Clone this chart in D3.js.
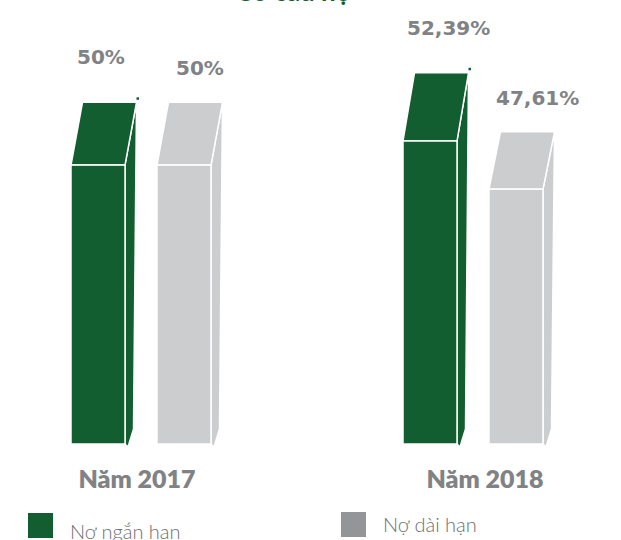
<!DOCTYPE html>
<html>
<head>
<meta charset="utf-8">
<script src="https://cdn.jsdelivr.net/npm/d3@7/dist/d3.min.js"></script>
<style>
  html, body { margin: 0; padding: 0; background: #fff; }
  svg { display: block; }
</style>
</head>
<body>
<svg id="chart" width="621" height="540"></svg>
<script>
// ---- data ----
const title = "Cơ cấu nợ";
const groups = ["Năm 2017", "Năm 2018"];
const series = ["Nợ ngắn hạn", "Nợ dài hạn"];
const shortTerm = [50, 52.39];
const longTerm = [50, 47.61];
const shortLabels = ["50%", "52,39%"];
const longLabels = ["50%", "47,61%"];

// ---- styles / layout ----
const colors = ["#125e30", "#cccdcf"];
const legendColors = ["#125e30", "#939598"];
const textGray = "#808285";
const W = 621, H = 540;
const depthRatio = 0.225, dx = 11.5;
const labelDx = [[6, 19], [4, 7]];
const labelDy = [38, 27];
const catDx = [66, 82];

const svg = d3.select("#chart");

const x0 = d3.scaleBand().domain(groups).range([71, 735]).paddingInner(0).paddingOuter(0);
const x1 = d3.scaleBand().domain(series).range([0, 140]).paddingInner(0.372).paddingOuter(0);
const y = d3.scaleLinear().domain([22.3, 52.39]).range([444, 141]);

// title (cut off at the top of the frame)
svg.append("text")
  .attr("x", 352).attr("y", 1)
  .attr("text-anchor", "end")
  .attr("font-family", "Lato, sans-serif")
  .attr("font-weight", 700)
  .attr("font-size", 26)
  .attr("fill", "#125e30")
  .text(title);

const rows = [];
groups.forEach((g, gi) => {
  [shortTerm, longTerm].forEach((arr, si) => {
    rows.push({ g, gi, s: series[si], si, v: arr[gi],
      label: (si === 0 ? shortLabels : longLabels)[gi] });
  });
});

const bw = x1.bandwidth();
const base = y.domain()[0];

rows.forEach(d => {
  const xl = x0(d.g) + x1(d.s);
  const xr = xl + bw;
  const top = y(d.v);
  const bottom = y(base);
  const depth = depthRatio * (bottom - top);
  const c = colors[d.si];
  const gEl = svg.append("g");

  // side face
  gEl.append("path")
    .attr("d", d3.line()([
      [xr, top], [xr + dx, top - depth], [xr + 8.5, bottom - 15], [xr + 3, bottom + 3], [xr, bottom]
    ]) + "Z")
    .attr("fill", c).attr("stroke", "#fff").attr("stroke-width", 1.5).attr("stroke-linejoin", "round");

  // top face
  gEl.append("path")
    .attr("d", d3.line()([
      [xl, top], [xr, top], [xr + dx, top - depth], [xl + dx, top - depth]
    ]) + "Z")
    .attr("fill", c).attr("stroke", "#fff").attr("stroke-width", 1.5);

  // front face
  gEl.append("rect")
    .attr("x", xl).attr("y", top)
    .attr("width", bw).attr("height", bottom - top)
    .attr("fill", c).attr("stroke", "#fff").attr("stroke-width", 1.5);

  if (d.si === 0) {
    gEl.append("rect")
      .attr("x", xr + dx).attr("y", top - depth - 5)
      .attr("width", 2.5).attr("height", 2.5)
      .attr("fill", c);
  }

  // value label
  svg.append("text")
    .attr("x", xl + labelDx[d.gi][d.si])
    .attr("y", top - depth - labelDy[d.si])
    .attr("font-family", "'DejaVu Sans', sans-serif")
    .attr("font-weight", 700)
    .attr("font-size", 20)
    .attr("fill", textGray)
    .text(d.label);
});

// category labels
groups.forEach((g, gi) => {
  svg.append("text")
    .attr("x", x0(g) + catDx[gi])
    .attr("y", 488)
    .attr("text-anchor", "middle")
    .attr("font-family", "Lato, sans-serif")
    .attr("font-weight", 800)
    .attr("font-size", 25)
    .attr("fill", textGray)
    .text(g);
});

// legend
const legendPos = [
  { sx: 28, sy: 513, tx: 70, ty: 539 },
  { sx: 341, sy: 512, tx: 383, ty: 532 }
];
series.forEach((s, i) => {
  const p = legendPos[i];
  svg.append("rect")
    .attr("x", p.sx).attr("y", p.sy)
    .attr("width", 25).attr("height", 25)
    .attr("fill", legendColors[i]);
  svg.append("text")
    .attr("x", p.tx).attr("y", p.ty)
    .attr("font-family", "Lato, sans-serif")
    .attr("font-weight", 300)
    .attr("font-size", 20)
    .attr("fill", "#6d6e71")
    .text(s);
});
</script>
</body>
</html>
